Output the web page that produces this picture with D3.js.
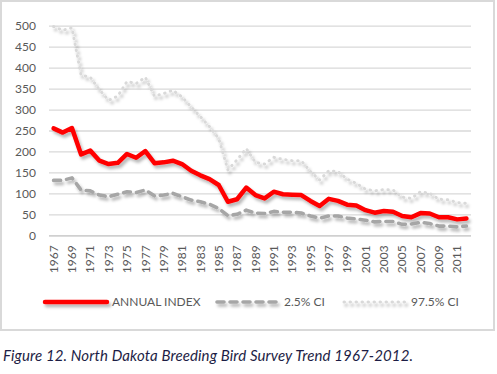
<!DOCTYPE html>
<html>
<head>
<meta charset="utf-8">
<script src="https://cdn.jsdelivr.net/npm/d3@7"></script>
<style>
  body { margin: 0; background: #fff; }
  text { font-family: Lato, "Open Sans", sans-serif; }
  .tick text { fill: #595959; font-size: 12px; }
  .legend text { fill: #595959; font-size: 12px; }
  .caption { font-style: italic; font-size: 15px; fill: #1d1d45; }
</style>
</head>
<body>
<svg width="497" height="374"></svg>
<script>
const years = d3.range(1967, 2013);
const annualIndex = [255, 245, 256, 193, 202, 178, 170, 173, 194, 185,
  201, 172, 174, 178, 170, 154, 143, 134, 120, 80,
  86, 114, 96, 88, 104, 98, 97, 96, 82, 70,
  87, 82, 73, 71, 60, 54, 58, 56, 46, 43,
  53, 52, 43, 43, 38, 40];
const lowerCI = [131, 131, 137, 108, 106, 96, 92, 98, 104, 102,
  108, 94, 96, 100, 92, 84, 80, 74, 64, 47,
  50, 60, 53, 52, 57, 55, 55, 53, 46, 41,
  46, 46, 41, 39, 36, 32, 33, 33, 26, 27,
  31, 28, 22, 22, 20, 22];
const upperCI = [498, 489, 495, 382, 377, 347, 322, 332, 367, 362,
  377, 332, 338, 346, 330, 306, 283, 259, 231, 156,
  180, 207, 174, 170, 186, 181, 178, 178, 152, 132,
  154, 152, 134, 124, 110, 106, 109, 108, 91, 88,
  104, 100, 86, 85, 78, 76];
const yTicks = [0, 50, 100, 150, 200, 250, 300, 350, 400, 450, 500];
const seriesNames = ["ANNUAL INDEX", "2.5% CI", "97.5% CI"];

const margin = {top: 25.7, right: 26, bottom: 138.7, left: 49};
const svg = d3.select("svg");
const width = +svg.attr("width") - margin.left - margin.right;
const height = +svg.attr("height") - margin.top - margin.bottom;

// drop shadow like the spreadsheet's line effect
// (userSpaceOnUse so the flat legend lines still get a filter region)
const defs = svg.append("defs");
const shadow = defs.append("filter").attr("id", "shadow")
  .attr("filterUnits", "userSpaceOnUse")
  .attr("x", -100).attr("y", -100).attr("width", 700).attr("height", 600);
shadow.append("feDropShadow")
  .attr("dx", 2).attr("dy", 3).attr("stdDeviation", 1.6)
  .attr("flood-color", "#000").attr("flood-opacity", 0.28);

// chart frame
svg.append("rect")
  .attr("x", 1).attr("y", 1).attr("width", 493).attr("height", 329)
  .attr("fill", "#fff").attr("stroke", "#d9d9d9").attr("stroke-width", 2);

const vis = svg.append("g")
  .attr("transform", `translate(${margin.left},${margin.top})`);

const x = d3.scaleBand().domain(years).range([0, width]);
const y = d3.scaleLinear().domain([0, 500]).range([height, 0]);

// gridlines
const grid = vis.append("g").attr("class", "grid")
  .call(d3.axisLeft(y).tickValues(yTicks).tickSize(-width).tickFormat(""));
grid.select(".domain").remove();
grid.selectAll("line")
  .attr("stroke", d => d === 0 ? "#d0d0d0" : "#d9d9d9")
  .attr("stroke-width", d => d === 0 ? 1.8 : 1.3);

// y axis labels
const yAxis = vis.append("g")
  .call(d3.axisLeft(y).tickValues(yTicks).tickSize(0).tickPadding(13));
yAxis.select(".domain").remove();

// x axis labels, rotated
const xAxis = vis.append("g")
  .attr("transform", `translate(0,${height})`)
  .call(d3.axisBottom(x).tickValues(years.filter(d => d % 2 === 1)).tickSize(0));
xAxis.select(".domain").remove();
xAxis.selectAll("text")
  .attr("transform", "rotate(-90)")
  .attr("x", -10).attr("y", 0).attr("dy", "0.35em")
  .style("text-anchor", "end");

const line = d3.line()
  .x((d, i) => x(years[i]) + x.bandwidth() / 2)
  .y(d => y(d));

const styles = [
  {data: annualIndex, color: "#ff0000", w: 4.5, dash: null},
  {data: lowerCI, color: "#a6a6a6", w: 3.6, dash: "7,6"},
  {data: upperCI, color: "#d9d9d9", w: 3, dash: "0.5,5.5"}
];

vis.append("g").attr("class", "series")
  .selectAll("path")
  .data(styles)
  .join("path")
  .attr("d", d => line(d.data))
  .attr("fill", "none")
  .attr("stroke", d => d.color)
  .attr("stroke-width", d => d.w)
  .attr("stroke-dasharray", d => d.dash)
  .attr("stroke-linecap", "round")
  .attr("stroke-linejoin", "round")
  .attr("filter", "url(#shadow)");

// legend
const legendX = [45, 217, 344];
const legend = svg.append("g").attr("class", "legend")
  .attr("transform", "translate(0,302)");
const item = legend.selectAll("g")
  .data(styles)
  .join("g")
  .attr("transform", (d, i) => `translate(${legendX[i]},0)`);
item.append("line")
  .attr("x1", 0).attr("x2", 62)
  .attr("stroke", d => d.color)
  .attr("stroke-width", d => d.w)
  .attr("stroke-dasharray", d => d.dash)
  .attr("stroke-linecap", "round")
  .attr("filter", "url(#shadow)");
item.append("text")
  .attr("x", 67).attr("dy", "0.35em")
  .text((d, i) => seriesNames[i]);

svg.append("text")
  .attr("class", "caption")
  .attr("x", 3).attr("y", 361)
  .attr("textLength", 410)
  .text("Figure 12. North Dakota Breeding Bird Survey Trend 1967-2012.");
</script>
</body>
</html>
